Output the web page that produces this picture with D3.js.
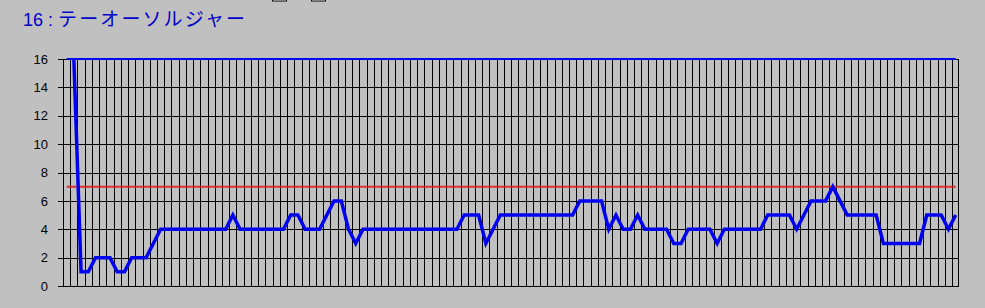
<!DOCTYPE html>
<html><head><meta charset="utf-8">
<script src="https://cdn.jsdelivr.net/npm/d3@7"></script>
<style>
html,body{margin:0;padding:0;background:#c0c0c0;}
svg{display:block;}
</style></head><body>
<svg id="chart" width="985" height="308"></svg>
<script>
const titleNum = "16 : ";
const titleName = "テーオーソルジャー";
const yTicks = [0, 2, 4, 6, 8, 10, 12, 14, 16];
const positions = [null,16,1,1,2,2,2,1,1,2,2,2,3,
  4,4,4,4,4,4,4,4,4,4,
  5,
  4,4,4,4,4,4,4,
  5,5,
  4,4,4,
  5,6,6,4,3,
  4,4,4,4,4,4,4,4,4,4,4,4,4,4,
  5,5,5,3,4,
  5,5,5,5,5,5,5,5,5,5,5,
  6,6,6,6,
  4,5,4,4,5,
  4,4,4,4,
  3,3,
  4,4,4,4,
  3,
  4,4,4,4,4,4,
  5,5,5,5,
  4,5,
  6,6,6,
  7,6,
  5,5,5,5,5,
  3,3,3,3,3,3,
  5,5,5,4,5];
const fieldSize = positions.map(() => 16);
const averageLine = positions.map(() => 7);

const svg = d3.select("#chart");
const m = {left: 63, right: 959.3, top: 59, bottom: 286};
const idx = d3.range(positions.length);
const x = d3.scaleBand().domain(idx).range([m.left, m.right]).paddingInner(0).paddingOuter(0);
const y = d3.scaleLinear().domain([0, 16]).range([m.bottom, m.top]);
const cx = i => x(i) + x.bandwidth() / 2;

// little widget edges at top
svg.append("rect").attr("x", 272.5).attr("y", -10).attr("width", 14).attr("height", 11)
  .attr("fill", "#fff").attr("stroke", "#000").attr("stroke-width", 1);
svg.append("rect").attr("x", 311.5).attr("y", -10).attr("width", 14).attr("height", 11)
  .attr("fill", "#fff").attr("stroke", "#000").attr("stroke-width", 1);

// title
const t = svg.append("text").attr("x", 23).attr("y", 26).attr("fill", "#0000c8");
t.append("tspan").attr("font-family", "Liberation Sans, Arial, sans-serif").attr("font-size", 18).text(titleNum);
t.append("tspan").attr("font-family", "Noto Sans CJK JP, sans-serif").attr("font-size", 19)
  .attr("textLength", 187).attr("lengthAdjust", "spacing").text(titleName);

const g = svg.append("g").attr("shape-rendering", "crispEdges");
g.selectAll("line.v").data(idx.slice(1)).enter().append("line")
  .attr("x1", i => Math.round(x(i)) + 0.5).attr("x2", i => Math.round(x(i)) + 0.5)
  .attr("y1", m.top).attr("y2", m.bottom).attr("stroke", "#000").attr("stroke-width", 1);
g.selectAll("line.h").data(yTicks).enter().append("line")
  .attr("x1", m.left - 5).attr("x2", m.right)
  .attr("y1", d => Math.round(y(d)) + 0.5).attr("y2", d => Math.round(y(d)) + 0.5)
  .attr("stroke", "#000").attr("stroke-width", 1);
g.append("line").attr("x1", m.left + 0.5).attr("x2", m.left + 0.5).attr("y1", m.top).attr("y2", m.bottom + 1).attr("stroke", "#000");
g.append("line").attr("x1", Math.round(m.right) - 0.5).attr("x2", Math.round(m.right) - 0.5).attr("y1", m.top).attr("y2", m.bottom + 1).attr("stroke", "#000");

svg.selectAll("text.yl").data(yTicks).enter().append("text")
  .attr("x", 48).attr("y", d => y(d)).attr("dy", "0.36em")
  .attr("text-anchor", "end").attr("font-family", "Liberation Sans, Arial, sans-serif")
  .attr("font-size", 13).attr("fill", "#000").text(d => d);

const line = d3.line().defined(d => d !== null).x((d, i) => cx(i)).y(d => y(d));
svg.append("clipPath").attr("id", "c").append("rect")
  .attr("x", m.left).attr("y", m.top - 3).attr("width", m.right - m.left).attr("height", m.bottom - m.top + 3);

svg.append("path").datum(averageLine).attr("d", line).attr("fill", "none")
  .attr("stroke", "#e02020").attr("stroke-width", 2).attr("opacity", 0.9);
svg.append("path").datum(fieldSize).attr("d", line).attr("fill", "none")
  .attr("stroke", "#0000f0").attr("stroke-width", 2);
svg.append("path").datum(positions).attr("d", line).attr("fill", "none")
  .attr("clip-path", "url(#c)")
  .attr("stroke", "#0000f0").attr("stroke-width", 3.5).attr("stroke-linejoin", "miter");
</script>
</body></html>
